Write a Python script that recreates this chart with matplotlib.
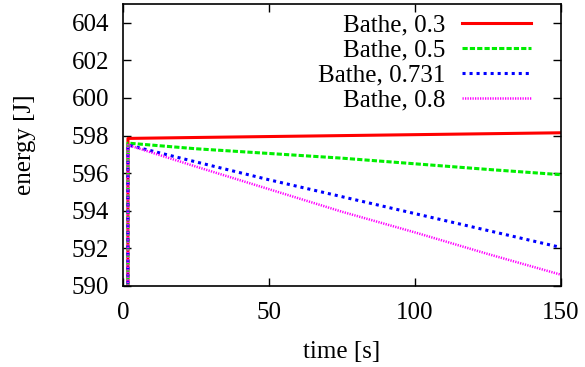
import matplotlib
matplotlib.use("Agg")
import matplotlib.pyplot as plt

plt.rcParams['font.family'] = ['Liberation Serif', 'DejaVu Serif']

time = [0.0, 1.7, 25, 50, 75, 100, 125, 150]
e_03 = [0.0, 597.85, 597.9, 597.95, 598.0, 598.05, 598.1, 598.15]
e_05 = [0.0, 597.6, 597.3, 597.05, 596.8, 596.5, 596.2, 595.92]
e_0731 = [0.0, 597.5, 596.6, 595.65, 594.75, 593.85, 592.95, 592.05]
e_08 = [0.0, 597.5, 596.35, 595.15, 593.95, 592.85, 591.7, 590.6]

labels = ["Bathe, 0.3", "Bathe, 0.5", "Bathe, 0.731", "Bathe, 0.8"]
xticks = [0, 50, 100, 150]
yticks = [590, 592, 594, 596, 598, 600, 602, 604]

W, H = 585, 367
fig = plt.figure(figsize=(W/100, H/100), dpi=100)
ax = fig.add_axes([123/W, 1-286/H, (561-123)/W, (286-4)/H])

ax.plot(time, e_03, color='#ff0000', lw=2.2, ls='-', label=labels[0])
ax.plot(time, e_05, color='#00ee00', lw=2.2, ls=(0, (1.7, 0.7)), label=labels[1])
ax.plot(time, e_0731, color='#0000ff', lw=2.2, ls=(0, (1.0, 1.3)), label=labels[2])
ax.plot(time, e_08, color='#ff00ff', lw=1.8, ls=(0, (0.5, 0.5)), label=labels[3])

ax.set_xlim(0, 150)
ax.set_ylim(590, 605)
ax.set_xticks(xticks)
ax.set_yticks(yticks)
ax.tick_params(direction='in', length=6, width=1, top=True, right=True,
               labelsize=18)
ax.tick_params(axis='y', pad=10)
ax.tick_params(axis='x', pad=11.5)
for s in ax.spines.values():
    s.set_linewidth(1.2)

ax.set_xlabel("time [s]", fontsize=18, labelpad=12)
ax.set_ylabel("energy [J]", fontsize=18, labelpad=26)

leg = ax.legend(loc='upper right', frameon=False, fontsize=18, markerfirst=False,
                handlelength=2.75, handletextpad=0.68, labelspacing=0.1,
                borderaxespad=0, borderpad=0,
                bbox_to_anchor=(531/W, 1-14/H), bbox_transform=fig.transFigure)
for t in leg.get_texts():
    t.set_ha('right')

fig.savefig("out.png", dpi=100)
